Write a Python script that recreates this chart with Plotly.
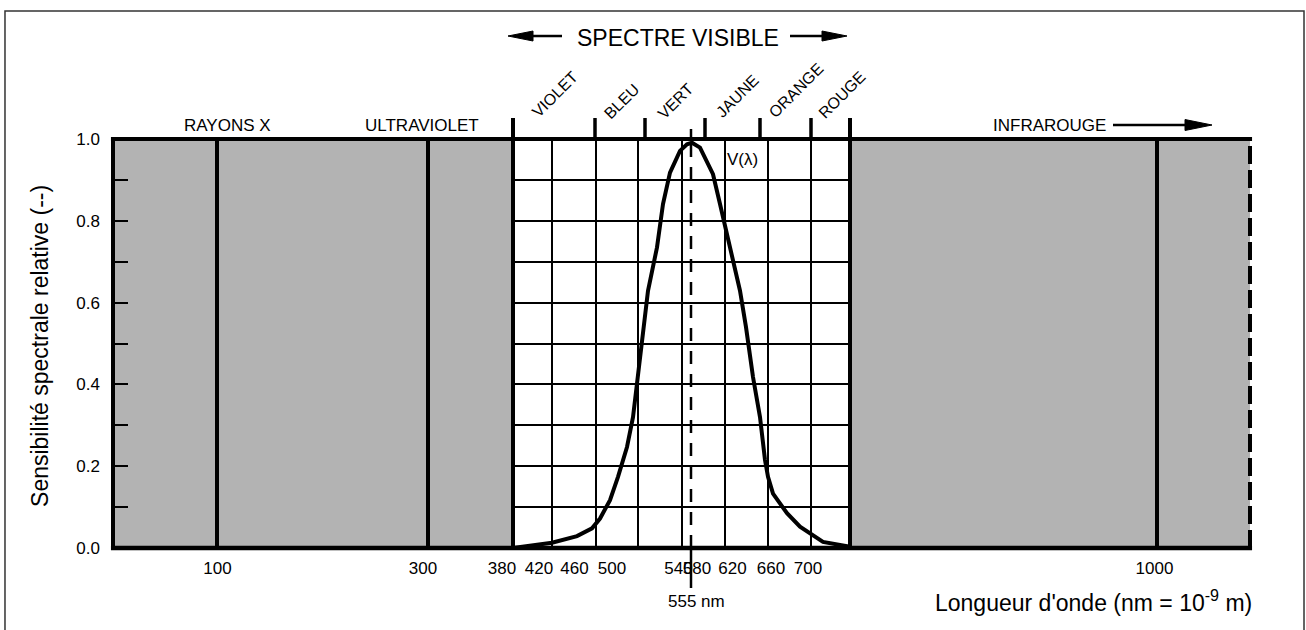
import plotly.graph_objects as go

# ---------------- data (schematic wavelength axis, axis units) ----------------
tick_labels = ["100", "300", "380", "420", "460", "500", "540", "580", "620", "660", "700", "1000"]
tick_pos = [104.5, 310, 389, 426, 461.5, 499, 565.5, 584, 619.5, 658, 695, 1041.5]

# heavy boundaries: 100 nm, 300 nm, 380 nm, 780 nm, 1000 nm
major_lines = [104, 315, 400, 737, 1044]
visible_lo, visible_hi = 400, 737
axis_min, axis_max = 0, 1137
visible_grid = [439, 483, 525, 569, 612, 655, 698]

band_edges = [400, 482, 532, 592, 647, 698, 737]
band_names = ["VIOLET", "BLEU", "VERT", "JAUNE", "ORANGE", "ROUGE"]
band_label_x = [442, 508.7, 562, 623.7, 682.8, 729.5]
band_label_y = [1.1076, 1.0912, 1.0929, 1.1051, 1.1198, 1.1076]

region_names = ["RAYONS X", "ULTRAVIOLET", "INFRAROUGE"]
region_label_x = [114, 309, 936.7]

peak_pos = 578  # 555 nm

# V(lambda) relative spectral sensitivity curve
curve_x = [400, 439, 464, 479, 487, 497, 505, 514, 520, 525, 531, 535, 544, 550, 557, 567, 574,
           579, 587, 600, 607, 617, 627, 633, 640, 647, 652, 655, 660, 674, 687, 710, 737]
curve_v = [0.0, 0.013, 0.029, 0.048, 0.072, 0.117, 0.174, 0.247, 0.320, 0.418, 0.55, 0.629, 0.735,
           0.841, 0.918, 0.971, 0.987, 0.991, 0.979, 0.914, 0.841, 0.735, 0.629, 0.54, 0.418, 0.320,
           0.215, 0.174, 0.133, 0.085, 0.052, 0.015, 0.003]

FONT = "Liberation Sans"
BLACK = "#000000"
GREY = "#b3b3b3"

fig = go.Figure()
fig.add_trace(go.Scatter(x=curve_x, y=curve_v, mode="lines",
                         line=dict(color=BLACK, width=4), hoverinfo="skip", showlegend=False))


def vline(x, y0, y1, width, dash=None, layer="above", xref="x"):
    ln = dict(color=BLACK, width=width)
    if dash:
        ln["dash"] = dash
    return dict(type="line", xref=xref, yref="paper", x0=x, x1=x, y0=y0, y1=y1, line=ln, layer=layer)


shapes = []
# grey (non-visible) regions
for x0, x1 in [(axis_min, visible_lo), (visible_hi, axis_max)]:
    shapes.append(dict(type="rect", xref="x", yref="y", x0=x0, x1=x1, y0=0, y1=1,
                       fillcolor=GREY, line=dict(width=0), layer="between"))
# thin vertical grid in the visible part
for g in visible_grid:
    shapes.append(vline(g, 0, 1, 2, layer="between"))
# heavy boundary lines
for m in major_lines:
    top = 1.0513 if m in (visible_lo, visible_hi) else 1
    shapes.append(vline(m, 0, top, 4))
# colour band ticks above the frame
for b in band_edges:
    shapes.append(vline(b, 1, 1.0513, 3.5))
# frame (paper-referenced so the edge lines are not clipped)
shapes += [
    dict(type="line", xref="paper", yref="paper", x0=-0.0018, x1=1.0018, y0=1, y1=1,
         line=dict(color=BLACK, width=4), layer="above"),
    dict(type="line", xref="paper", yref="paper", x0=-0.0018, x1=1.0018, y0=0, y1=0,
         line=dict(color=BLACK, width=4.5), layer="above"),
    vline(0, 0, 1, 4, xref="paper"),
    vline(1, 0, 1, 4, dash="18px,6px", xref="paper"),
]
# 555 nm marker
shapes += [
    vline(peak_pos, 1, 1.0244, 2.5),
    vline(peak_pos, 0, 1, 2.5, dash="13px,10px"),
    vline(peak_pos, 0, -0.0978, 2.5),
]
# arrows
shapes += [
    dict(type="line", xref="x", yref="paper", x0=418, x1=449, y0=1.2518, y1=1.2518,
         line=dict(color=BLACK, width=2.5)),
    dict(type="path", xref="x", yref="paper", path="M 395,1.2518 L 420,1.2640 L 420,1.2396 Z",
         fillcolor=BLACK, line=dict(color=BLACK, width=1)),
    dict(type="line", xref="x", yref="paper", x0=677, x1=711, y0=1.2518, y1=1.2518,
         line=dict(color=BLACK, width=2.5)),
    dict(type="path", xref="x", yref="paper", path="M 734,1.2518 L 709,1.2640 L 709,1.2396 Z",
         fillcolor=BLACK, line=dict(color=BLACK, width=1)),
    dict(type="line", xref="x", yref="paper", x0=1000, x1=1074, y0=1.0342, y1=1.0342,
         line=dict(color=BLACK, width=2.5)),
    dict(type="path", xref="x", yref="paper", path="M 1099,1.0342 L 1072,1.0476 L 1072,1.0208 Z",
         fillcolor=BLACK, line=dict(color=BLACK, width=1)),
]
# outer border
shapes.append(dict(type="rect", xref="paper", yref="paper", x0=-0.095, x1=1.0475,
                   y0=-0.25, y1=1.3130, line=dict(color="#333333", width=1.5),
                   fillcolor="rgba(0,0,0,0)", layer="above"))

ann = []
ann.append(dict(text="Sensibilité spectrale relative (--)", xref="paper", yref="paper",
                x=-0.0642, y=0.494, textangle=-90, showarrow=False,
                font=dict(size=23, color=BLACK, family=FONT), xanchor="center", yanchor="middle"))
ann.append(dict(text="Longueur d'onde (nm = 10<sup>-9</sup> m)", xref="paper", yref="paper",
                x=1.0035, y=-0.13, showarrow=False, font=dict(size=23, color=BLACK, family=FONT),
                xanchor="right", yanchor="middle"))
ann.append(dict(text="555 nm", xref="x", yref="paper", x=583.7, y=-0.132, showarrow=False,
                font=dict(size=17, color=BLACK, family=FONT), xanchor="center", yanchor="middle"))
ann.append(dict(text="SPECTRE VISIBLE", xref="x", yref="paper", x=564.5, y=1.2462, showarrow=False,
                font=dict(size=23, color=BLACK, family=FONT), xanchor="center", yanchor="middle"))
ann.append(dict(text="V(λ)", xref="x", yref="y", x=629.5, y=0.9487, showarrow=False,
                font=dict(size=17, color=BLACK, family=FONT), xanchor="center", yanchor="middle"))
for name, xx in zip(region_names, region_label_x):
    ann.append(dict(text=name, xref="x", yref="paper", x=xx, y=1.0330, showarrow=False,
                    font=dict(size=17, color=BLACK, family=FONT), xanchor="center", yanchor="middle"))
for name, xx, yy in zip(band_names, band_label_x, band_label_y):
    ann.append(dict(text=name, xref="x", yref="paper", x=xx, y=yy, textangle=-45, showarrow=False,
                    font=dict(size=16, color=BLACK, family=FONT), xanchor="center", yanchor="middle"))

fig.update_layout(
    width=1306, height=630,
    margin=dict(l=113, r=56, t=139, b=82),
    paper_bgcolor="white", plot_bgcolor="white",
    font=dict(family=FONT, color=BLACK),
    showlegend=False,
    shapes=shapes, annotations=ann,
    xaxis=dict(range=[axis_min, axis_max], showgrid=False, zeroline=False, showline=False,
               tickmode="array", tickvals=tick_pos, ticktext=tick_labels, tickangle=0,
               ticks="", ticklabelstandoff=8, tickfont=dict(size=17, color=BLACK, family=FONT)),
    yaxis=dict(range=[0, 1], showgrid=True, gridcolor=BLACK, gridwidth=2, zeroline=False,
               showline=False, tickmode="linear", tick0=0, dtick=0.2, tickformat=".1f",
               ticks="inside", ticklen=15, tickwidth=2, tickcolor=BLACK, ticklabelstandoff=12,
               tickfont=dict(size=17, color=BLACK, family=FONT),
               minor=dict(dtick=0.1, ticks="inside", ticklen=15, tickwidth=2, tickcolor=BLACK,
                          showgrid=True, gridcolor=BLACK, gridwidth=2)),
)

fig.write_html("out.html", config={"displayModeBar": False},
               post_script="document.body.style.margin='0px';")
